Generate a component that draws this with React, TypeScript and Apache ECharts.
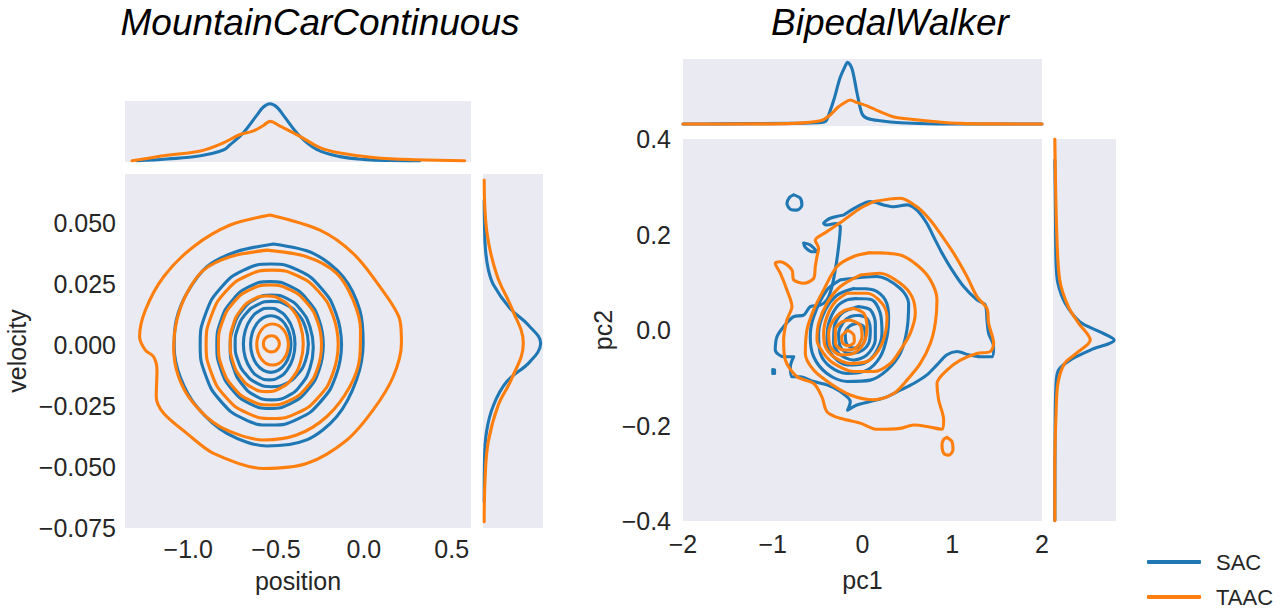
import React, { useEffect, useRef } from "react";
import * as echarts from "echarts";

const BLUE = "#1f77b4";
const ORANGE = "#ff7f0e";
const BG = "#eaeaf2";
const TXT = "#262626";
const FONT = "Liberation Sans, Arial, sans-serif";

// ---------- MountainCarContinuous ----------
const MC_X_TICKS = [-1.0, -0.5, 0.0, 0.5];
const MC_Y_TICKS = [-0.075, -0.05, -0.025, 0.0, 0.025, 0.05];

// KDE contours (position, velocity)
const MC_SAC_1 = [[-0.515,0.0414],[-0.724,0.0383],[-0.894,0.0321],[-1.008,0.0212],[-1.068,0.0102],[-1.080,-0.0007],[-1.046,-0.0130],[-0.951,-0.0253],[-0.780,-0.0362],[-0.553,-0.0414],[-0.326,-0.0389],[-0.155,-0.0294],[-0.042,-0.0143],[-0.004,0.0007],[-0.023,0.0143],[-0.118,0.0280],[-0.288,0.0376],[-0.515,0.0414]];
const MC_SAC_2 = [[-0.127,0.0002],[-0.158,0.0128],[-0.245,0.0235],[-0.375,0.0307],[-0.530,0.0332],[-0.684,0.0307],[-0.814,0.0235],[-0.901,0.0128],[-0.932,0.0002],[-0.901,-0.0124],[-0.814,-0.0231],[-0.684,-0.0303],[-0.530,-0.0328],[-0.375,-0.0303],[-0.245,-0.0231],[-0.158,-0.0124],[-0.127,0.0002]];
const MC_SAC_3 = [[-0.231,0],[-0.254,0.0100],[-0.320,0.0184],[-0.418,0.0240],[-0.534,0.0260],[-0.650,0.0240],[-0.748,0.0184],[-0.814,0.0100],[-0.837,0],[-0.814,-0.0100],[-0.748,-0.0184],[-0.650,-0.0240],[-0.534,-0.0260],[-0.418,-0.0240],[-0.320,-0.0184],[-0.254,-0.0100],[-0.231,0]];
const MC_SAC_4 = [[-0.288,-0.001],[-0.306,0.0072],[-0.357,0.0142],[-0.434,0.0189],[-0.525,0.0205],[-0.615,0.0189],[-0.692,0.0142],[-0.743,0.0072],[-0.761,-0.001],[-0.743,-0.0092],[-0.692,-0.0162],[-0.615,-0.0209],[-0.525,-0.0225],[-0.434,-0.0209],[-0.357,-0.0162],[-0.306,-0.0092],[-0.288,-0.001]];
const MC_SAC_5 = [[-0.316,0.0004],[-0.332,0.0071],[-0.377,0.0128],[-0.444,0.0166],[-0.525,0.0179],[-0.604,0.0166],[-0.672,0.0128],[-0.717,0.0071],[-0.733,0.0004],[-0.717,-0.0063],[-0.672,-0.0120],[-0.604,-0.0158],[-0.525,-0.0171],[-0.444,-0.0158],[-0.377,-0.0120],[-0.332,-0.0063],[-0.316,0.0004]];
const MC_SAC_6 = [[-0.392,0.0004],[-0.403,0.0060],[-0.435,0.0108],[-0.483,0.0140],[-0.539,0.0151],[-0.595,0.0140],[-0.643,0.0108],[-0.675,0.0060],[-0.686,0.0004],[-0.675,-0.0052],[-0.643,-0.0100],[-0.595,-0.0132],[-0.539,-0.0143],[-0.483,-0.0132],[-0.435,-0.0100],[-0.403,-0.0052],[-0.392,0.0004]];
const MC_SAC_7 = [[-0.415,0.0004],[-0.424,0.0048],[-0.449,0.0086],[-0.486,0.0111],[-0.530,0.0120],[-0.574,0.0111],[-0.611,0.0086],[-0.636,0.0048],[-0.645,0.0004],[-0.636,-0.0040],[-0.611,-0.0078],[-0.574,-0.0103],[-0.530,-0.0112],[-0.486,-0.0103],[-0.449,-0.0078],[-0.424,-0.0040],[-0.415,0.0004]];

const MC_TAAC_1 = [[-0.534,0.0533],[-0.761,0.0492],[-0.970,0.0403],[-1.140,0.0280],[-1.244,0.0143],[-1.277,0.0034],[-1.244,-0.0021],[-1.197,-0.0048],[-1.178,-0.0103],[-1.182,-0.0212],[-1.140,-0.0280],[-1.008,-0.0362],[-0.856,-0.0444],[-0.572,-0.0506],[-0.326,-0.0486],[-0.098,-0.0390],[0.053,-0.0266],[0.167,-0.0130],[0.214,0.0007],[0.205,0.0102],[0.091,0.0239],[-0.060,0.0375],[-0.250,0.0471],[-0.534,0.0533]];
const MC_TAAC_2 = [[-0.553,0.0389],[-0.761,0.0362],[-0.913,0.0307],[-1.008,0.0212],[-1.065,0.0102],[-1.083,-0.0007],[-1.055,-0.0130],[-0.970,-0.0239],[-0.818,-0.0335],[-0.572,-0.0389],[-0.383,-0.0369],[-0.212,-0.0294],[-0.080,-0.0171],[-0.023,-0.0048],[-0.019,0.0062],[-0.061,0.0184],[-0.155,0.0294],[-0.326,0.0362],[-0.553,0.0389]];
const MC_TAAC_3 = [[-0.146,0.0003],[-0.175,0.0119],[-0.256,0.0218],[-0.378,0.0284],[-0.522,0.0307],[-0.666,0.0284],[-0.788,0.0218],[-0.869,0.0119],[-0.898,0.0003],[-0.869,-0.0113],[-0.788,-0.0212],[-0.666,-0.0278],[-0.522,-0.0301],[-0.378,-0.0278],[-0.256,-0.0212],[-0.175,-0.0113],[-0.146,0.0003]];
const MC_TAAC_4 = [[-0.241,0],[-0.263,0.0094],[-0.327,0.0174],[-0.422,0.0227],[-0.535,0.0246],[-0.647,0.0227],[-0.742,0.0174],[-0.806,0.0094],[-0.828,0],[-0.806,-0.0094],[-0.742,-0.0174],[-0.647,-0.0227],[-0.535,-0.0246],[-0.422,-0.0227],[-0.327,-0.0174],[-0.263,-0.0094],[-0.241,0]];
const MC_TAAC_5 = [[-0.345,0.0005],[-0.361,0.0080],[-0.406,0.0144],[-0.473,0.0186],[-0.553,0.0201],[-0.633,0.0186],[-0.700,0.0144],[-0.745,0.0080],[-0.761,0.0005],[-0.745,-0.0070],[-0.700,-0.0134],[-0.633,-0.0176],[-0.553,-0.0191],[-0.473,-0.0176],[-0.406,-0.0134],[-0.361,-0.0070],[-0.345,0.0005]];
const MC_TAAC_6 = [[-0.430,0.0002],[-0.437,0.0034],[-0.456,0.0061],[-0.486,0.0080],[-0.520,0.0086],[-0.555,0.0080],[-0.584,0.0061],[-0.603,0.0034],[-0.610,0.0002],[-0.603,-0.0030],[-0.584,-0.0057],[-0.555,-0.0076],[-0.520,-0.0082],[-0.486,-0.0076],[-0.456,-0.0057],[-0.437,-0.0030],[-0.430,0.0002]];
const MC_TAAC_7 = [[-0.481,0.0005],[-0.485,0.0018],[-0.495,0.0028],[-0.509,0.0036],[-0.527,0.0038],[-0.544,0.0036],[-0.559,0.0028],[-0.569,0.0018],[-0.572,0.0005],[-0.569,-0.0008],[-0.559,-0.0018],[-0.544,-0.0026],[-0.527,-0.0028],[-0.509,-0.0026],[-0.495,-0.0018],[-0.485,-0.0008],[-0.481,0.0005]];

// marginal densities: position (top) and velocity (right)
const MC_POS_SAC = [[-1.29,0],[-1.12,0.03],[-0.93,0.085],[-0.80,0.18],[-0.761,0.27],[-0.686,0.47],[-0.61,0.76],[-0.572,0.9],[-0.534,0.954],[-0.496,0.9],[-0.458,0.76],[-0.364,0.41],[-0.269,0.19],[-0.136,0.07],[0.015,0.02],[0.15,0.005],[0.318,0]];
const MC_POS_TAAC = [[-1.32,0],[-1.12,0.094],[-0.93,0.165],[-0.80,0.30],[-0.705,0.44],[-0.629,0.50],[-0.572,0.59],[-0.534,0.66],[-0.477,0.58],[-0.364,0.41],[-0.25,0.22],[-0.136,0.13],[0.053,0.056],[0.30,0.017],[0.574,0]];
const MC_VEL_SAC = [[0,0.0594],[0.005,0.05],[0.02,0.0396],[0.07,0.031],[0.16,0.0246],[0.44,0.015],[0.75,0.0082],[0.96,0.0007],[0.78,-0.0068],[0.385,-0.015],[0.16,-0.0246],[0.04,-0.0355],[0.005,-0.048],[0,-0.0642]];
const MC_VEL_TAAC = [[0,0.0676],[0.045,0.0464],[0.215,0.0287],[0.47,0.015],[0.665,0.0007],[0.47,-0.0137],[0.24,-0.0246],[0.07,-0.0396],[0.015,-0.055],[0,-0.0724]];

// ---------- BipedalWalker ----------
const BW_X_TICKS = [-2, -1, 0, 1, 2];
const BW_Y_TICKS = [-0.4, -0.2, 0.0, 0.2, 0.4];

const BW_SAC_1 = [[-0.210,0.241],[-0.062,0.258],[0.087,0.269],[0.235,0.262],[0.347,0.258],[0.495,0.262],[0.607,0.251],[0.718,0.223],[0.793,0.195],[0.886,0.161],[0.997,0.126],[1.127,0.091],[1.275,0.063],[1.368,0.052],[1.387,0.021],[1.405,-0.007],[1.461,-0.035],[1.443,-0.056],[1.313,-0.056],[1.183,-0.052],[1.053,-0.045],[0.941,-0.052],[0.830,-0.073],[0.718,-0.094],[0.570,-0.112],[0.421,-0.126],[0.273,-0.140],[0.087,-0.150],[-0.062,-0.157],[-0.166,-0.168],[-0.136,-0.150],[-0.247,-0.129],[-0.396,-0.115],[-0.544,-0.108],[-0.693,-0.098],[-0.786,-0.098],[-0.804,-0.077],[-0.767,-0.056],[-0.879,-0.056],[-0.972,-0.042],[-0.953,-0.014],[-0.879,0.007],[-0.767,0.028],[-0.656,0.031],[-0.582,0.049],[-0.470,0.052],[-0.396,0.063],[-0.340,0.091],[-0.303,0.126],[-0.266,0.175],[-0.247,0.216],[-0.303,0.223],[-0.396,0.220],[-0.433,0.223],[-0.359,0.234],[-0.210,0.241]];
const BW_SAC_2 = [[-0.247,0.105],[0.161,0.112],[0.421,0.087],[0.514,0.056],[0.495,0.000],[0.421,-0.049],[0.273,-0.084],[0.087,-0.105],[-0.173,-0.108],[-0.396,-0.091],[-0.544,-0.056],[-0.582,-0.014],[-0.544,0.028],[-0.396,0.084],[-0.247,0.105]];
const BW_SAC_3 = [[-0.099,0.087],[0.124,0.084],[0.254,0.063],[0.291,0.028],[0.273,-0.014],[0.198,-0.056],[0.050,-0.084],[-0.173,-0.091],[-0.359,-0.077],[-0.470,-0.049],[-0.489,-0.007],[-0.414,0.042],[-0.284,0.073],[-0.099,0.087]];
const BW_SAC_4 = [[-0.062,0.066],[0.106,0.063],[0.198,0.035],[0.217,-0.007],[0.143,-0.049],[0.013,-0.070],[-0.173,-0.073],[-0.322,-0.056],[-0.396,-0.028],[-0.377,0.014],[-0.284,0.049],[-0.173,0.063],[-0.062,0.066]];
const BW_SAC_5 = [[-0.043,0.049],[0.087,0.042],[0.143,0.014],[0.143,-0.021],[0.050,-0.052],[-0.099,-0.063],[-0.247,-0.052],[-0.322,-0.028],[-0.314,0.007],[-0.229,0.035],[-0.043,0.049]];
const BW_SAC_6 = [[-0.043,0.031],[0.050,0.024],[0.087,0.000],[0.068,-0.028],[-0.024,-0.045],[-0.154,-0.049],[-0.247,-0.035],[-0.266,-0.007],[-0.210,0.017],[-0.136,0.028],[-0.043,0.031]];
const BW_SAC_7 = [[-0.062,0.014],[0.013,0.007],[0.031,-0.014],[-0.006,-0.032],[-0.099,-0.038],[-0.180,-0.028],[-0.192,-0.007],[-0.143,0.008],[-0.062,0.014]];
const BW_SAC_ISLAND_1 = [[-0.767,0.283],[-0.693,0.276],[-0.675,0.262],[-0.730,0.251],[-0.804,0.253],[-0.842,0.265],[-0.812,0.278],[-0.767,0.283]];
const BW_SAC_ISLAND_2 = [[-0.656,0.182],[-0.582,0.178],[-0.507,0.164],[-0.563,0.164],[-0.637,0.173],[-0.656,0.182]];
const BW_SAC_ISLAND_3 = [[-1.00,-0.083],[-0.98,-0.084],[-0.98,-0.091],[-1.00,-0.091],[-1.00,-0.083]];

const BW_TAAC_1 = [[0.124,0.269],[0.421,0.276],[0.607,0.258],[0.756,0.230],[0.867,0.202],[1.015,0.161],[1.164,0.112],[1.275,0.070],[1.387,0.045],[1.405,0.014],[1.461,-0.028],[1.424,-0.045],[1.275,-0.049],[1.090,-0.063],[0.941,-0.084],[0.830,-0.112],[0.848,-0.146],[0.904,-0.188],[0.886,-0.208],[0.718,-0.202],[0.570,-0.199],[0.421,-0.206],[0.161,-0.208],[-0.024,-0.195],[-0.247,-0.185],[-0.396,-0.171],[-0.452,-0.140],[-0.544,-0.112],[-0.730,-0.098],[-0.860,-0.063],[-0.879,-0.021],[-0.842,0.021],[-0.786,0.049],[-0.842,0.084],[-0.916,0.119],[-0.972,0.140],[-0.916,0.143],[-0.786,0.126],[-0.767,0.105],[-0.656,0.098],[-0.544,0.108],[-0.526,0.133],[-0.507,0.154],[-0.489,0.171],[-0.526,0.188],[-0.396,0.206],[-0.210,0.230],[-0.024,0.255],[0.124,0.269]];
const BW_TAAC_2 = [[0.087,0.162],[0.421,0.157],[0.607,0.136],[0.756,0.105],[0.830,0.063],[0.811,0.014],[0.756,-0.028],[0.644,-0.070],[0.495,-0.105],[0.347,-0.133],[0.124,-0.146],[-0.136,-0.136],[-0.359,-0.112],[-0.544,-0.084],[-0.637,-0.049],[-0.619,0.000],[-0.544,0.042],[-0.433,0.084],[-0.284,0.133],[-0.099,0.154],[0.087,0.162]];
const BW_TAAC_3 = [[-0.024,0.115],[0.198,0.119],[0.421,0.098],[0.551,0.070],[0.588,0.035],[0.532,-0.007],[0.421,-0.042],[0.310,-0.070],[0.124,-0.087],[-0.099,-0.087],[-0.322,-0.070],[-0.433,-0.049],[-0.507,-0.021],[-0.489,0.014],[-0.396,0.056],[-0.247,0.091],[-0.024,0.115]];
const BW_TAAC_4 = [[-0.173,0.077],[0.050,0.077],[0.217,0.056],[0.273,0.028],[0.254,-0.007],[0.180,-0.042],[0.050,-0.066],[-0.136,-0.070],[-0.322,-0.056],[-0.414,-0.035],[-0.433,-0.007],[-0.396,0.028],[-0.303,0.059],[-0.173,0.077]];
const BW_TAAC_5 = [[-0.099,0.045],[0.013,0.035],[0.050,0.007],[0.013,-0.028],[-0.099,-0.049],[-0.247,-0.052],[-0.359,-0.035],[-0.377,-0.007],[-0.322,0.021],[-0.210,0.040],[-0.099,0.045]];
const BW_TAAC_6 = [[-0.136,0.021],[-0.024,0.010],[-0.006,-0.014],[-0.080,-0.038],[-0.210,-0.042],[-0.303,-0.028],[-0.303,0.000],[-0.229,0.017],[-0.136,0.021]];
const BW_TAAC_7 = [[-0.166,-0.001],[-0.099,-0.010],[-0.091,-0.024],[-0.154,-0.033],[-0.218,-0.028],[-0.232,-0.014],[-0.166,-0.001]];
const BW_TAAC_ISLAND = [[0.941,-0.225],[0.997,-0.234],[1.008,-0.251],[0.960,-0.262],[0.904,-0.258],[0.886,-0.241],[0.904,-0.229],[0.941,-0.225]];

const BW_PC1_SAC = [[-2,0],[-1.6,0.003],[-0.77,0.01],[-0.51,0.02],[-0.43,0.03],[-0.40,0.06],[-0.32,0.37],[-0.25,0.71],[-0.19,0.90],[-0.167,0.95],[-0.117,0.85],[-0.06,0.47],[-0.006,0.16],[0.05,0.09],[0.20,0.05],[0.42,0.02],[0.72,0.005],[1.2,0],[2,0]];
const BW_PC1_TAAC = [[-2,0],[-1.2,0.002],[-0.77,0.01],[-0.47,0.05],[-0.36,0.14],[-0.28,0.25],[-0.21,0.32],[-0.136,0.37],[-0.06,0.33],[0.05,0.28],[0.16,0.21],[0.35,0.11],[0.57,0.07],[0.79,0.04],[1.09,0.01],[1.5,0.002],[2,0]];
const BW_PC2_SAC = [[0,0.356],[0.01,0.25],[0.02,0.14],[0.05,0.098],[0.17,0.056],[0.41,0.017],[0.74,-0.004],[0.97,-0.021],[0.58,-0.042],[0.25,-0.063],[0.06,-0.084],[0.02,-0.112],[0.005,-0.2],[0,-0.398]];
const BW_PC2_TAAC = [[0,0.40],[0.03,0.209],[0.08,0.105],[0.22,0.049],[0.39,0.014],[0.58,-0.021],[0.35,-0.049],[0.16,-0.070],[0.05,-0.112],[0.02,-0.175],[0,-0.28],[0,-0.40]];

const LEGEND_NAMES = ["SAC", "TAAC"];
const LEGEND_COLORS = [BLUE, ORANGE];

const fmt = (v: number, d: number) => (v < -1e-9 ? "\u2212" : "") + Math.abs(v).toFixed(d);

function curve(name: string, color: string, data: number[][], axis: number, smooth: number) {
  return {
    type: "line",
    name,
    xAxisIndex: axis,
    yAxisIndex: axis,
    data,
    smooth,
    symbol: "none",
    showSymbol: false,
    silent: true,
    lineStyle: { color, width: 3.1, cap: "round", join: "round" },
    itemStyle: { color },
  };
}

export default function App() {
  const ref = useRef<HTMLDivElement>(null);
  useEffect(() => {
    if (!ref.current) return;
    const chart = echarts.init(ref.current, undefined, { renderer: "svg" });
    const labelStyle = { fontSize: 25, color: TXT, fontFamily: FONT };
    const hidden = (grid: number, min: number, max: number) => ({
      gridIndex: grid, type: "value", min, max, show: false,
      splitLine: { show: false },
    });
    const grids = [
      { left: 125, top: 174, width: 346, height: 354 },
      { left: 125, top: 101, width: 346, height: 61 },
      { left: 483, top: 174, width: 60, height: 354 },
      { left: 683, top: 139, width: 359, height: 382 },
      { left: 683, top: 59, width: 359, height: 67 },
      { left: 1053, top: 139, width: 63, height: 382 },
    ].map((g) => ({ ...g, show: true, backgroundColor: BG, borderWidth: 0 }));

    const mcSac = [MC_SAC_1, MC_SAC_2, MC_SAC_3, MC_SAC_4, MC_SAC_5, MC_SAC_6, MC_SAC_7];
    const mcTaac = [MC_TAAC_1, MC_TAAC_2, MC_TAAC_3, MC_TAAC_4, MC_TAAC_5, MC_TAAC_6, MC_TAAC_7];
    const bwSac = [BW_SAC_1, BW_SAC_2, BW_SAC_3, BW_SAC_4, BW_SAC_5, BW_SAC_6, BW_SAC_7, BW_SAC_ISLAND_1, BW_SAC_ISLAND_2, BW_SAC_ISLAND_3];
    const bwTaac = [BW_TAAC_1, BW_TAAC_2, BW_TAAC_3, BW_TAAC_4, BW_TAAC_5, BW_TAAC_6, BW_TAAC_7, BW_TAAC_ISLAND];

    const series: any[] = [
      ...mcSac.map((d) => curve("SAC", BLUE, d, 0, d.length === 17 ? 0.5 : 0.3)),
      ...mcTaac.map((d) => curve("TAAC", ORANGE, d, 0, d.length === 17 ? 0.5 : 0.3)),
      curve("SAC", BLUE, MC_POS_SAC, 1, 0.4),
      curve("TAAC", ORANGE, MC_POS_TAAC, 1, 0.4),
      curve("SAC", BLUE, MC_VEL_SAC, 2, 0.4),
      curve("TAAC", ORANGE, MC_VEL_TAAC, 2, 0.4),
      ...bwSac.map((d) => curve("SAC", BLUE, d, 3, 0.3)),
      ...bwTaac.map((d) => curve("TAAC", ORANGE, d, 3, 0.3)),
      curve("SAC", BLUE, BW_PC1_SAC, 4, 0.3),
      curve("TAAC", ORANGE, BW_PC1_TAAC, 4, 0.3),
      curve("SAC", BLUE, BW_PC2_SAC, 5, 0.3),
      curve("TAAC", ORANGE, BW_PC2_TAAC, 5, 0.3),
    ];

    const legends = LEGEND_NAMES.map((n, i) => ({
      data: [{ name: n, itemStyle: { color: LEGEND_COLORS[i] } }],
      orient: "vertical", left: 1142, top: 546 + i * 35,
      itemWidth: 54, itemHeight: 4, icon: "roundRect", selectedMode: false,
      textStyle: { fontSize: 22, color: TXT, fontFamily: FONT, padding: [0, 0, 0, 10] },
    }));

    chart.setOption({
      animation: false,
      grid: grids,
      xAxis: [
        {
          gridIndex: 0, type: "value", min: -1.36, max: 0.61,
          axisLine: { show: false }, axisTick: { show: false }, splitLine: { show: false },
          axisLabel: { ...labelStyle, customValues: MC_X_TICKS, formatter: (v: number) => fmt(v, 1), margin: 8 },
          name: "position", nameLocation: "middle", nameGap: 40, nameTextStyle: labelStyle,
        },
        hidden(1, -1.36, 0.61),
        hidden(2, -0.02, 1),
        {
          gridIndex: 3, type: "value", min: -2, max: 2,
          axisLine: { show: false }, axisTick: { show: false }, splitLine: { show: false },
          axisLabel: { ...labelStyle, customValues: BW_X_TICKS, formatter: (v: number) => fmt(v, 0), margin: 10 },
          name: "pc1", nameLocation: "middle", nameGap: 46, nameTextStyle: labelStyle,
        },
        hidden(4, -2, 2),
        hidden(5, -0.03, 1),
      ],
      yAxis: [
        {
          gridIndex: 0, type: "value", min: -0.075, max: 0.0701,
          axisLine: { show: false }, axisTick: { show: false }, splitLine: { show: false },
          axisLabel: { ...labelStyle, customValues: MC_Y_TICKS, formatter: (v: number) => fmt(v, 3), margin: 9 },
          name: "velocity", nameLocation: "middle", nameGap: 96, nameTextStyle: labelStyle,
        },
        hidden(1, -0.02, 1),
        hidden(2, -0.075, 0.0701),
        {
          gridIndex: 3, type: "value", min: -0.4, max: 0.4,
          axisLine: { show: false }, axisTick: { show: false }, splitLine: { show: false },
          axisLabel: { ...labelStyle, customValues: BW_Y_TICKS, formatter: (v: number) => fmt(v, 1), margin: 12 },
          name: "pc2", nameLocation: "middle", nameGap: 68, nameTextStyle: labelStyle,
        },
        hidden(4, -0.03, 1),
        hidden(5, -0.4, 0.4),
      ],
      legend: legends,
      graphic: [
        {
          type: "text", x: 320, y: 22,
          style: { text: "MountainCarContinuous", fontSize: 37, fontStyle: "italic", fontFamily: FONT, fill: "#000", align: "center", verticalAlign: "middle", textAlign: "center", textVerticalAlign: "middle" },
        },
        {
          type: "text", x: 890, y: 22,
          style: { text: "BipedalWalker", fontSize: 37, fontStyle: "italic", fontFamily: FONT, fill: "#000", align: "center", verticalAlign: "middle", textAlign: "center", textVerticalAlign: "middle" },
        },
      ],
      series,
    });
    return () => chart.dispose();
  }, []);
  return <div ref={ref} style={{ position: "absolute", left: 0, top: 0, width: 1281, height: 608 }} />;
}
